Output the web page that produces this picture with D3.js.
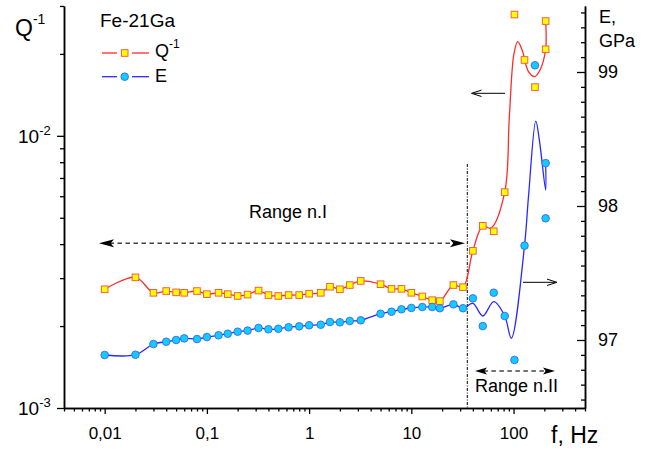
<!DOCTYPE html>
<html><head><meta charset="utf-8">
<script src="https://cdn.jsdelivr.net/npm/d3@7"></script>
<style>
body{margin:0;background:#fff}
svg{display:block}
text{font-family:"Liberation Sans",Arial,sans-serif;fill:#000}
</style>
</head><body>
<svg id="c" width="657" height="453"></svg>
<script>
// ---- data ----
const freq = [0.01,0.02,0.03,0.04,0.05,0.06,0.08,0.1,0.13,0.16,0.2,0.25,0.32,0.4,0.5,0.63,0.8,1,1.3,1.6,2,2.5,3.2,5,6.4,8,10,12.8,16,19,25.8,32,40,50,64,82,102,128,162,206,206];
const qValues = [2.73,3.02,2.65,2.69,2.66,2.65,2.69,2.62,2.65,2.62,2.58,2.61,2.70,2.60,2.58,2.60,2.60,2.63,2.65,2.79,2.73,2.83,2.93,2.85,2.74,2.74,2.65,2.57,2.49,2.47,2.83,2.78,3.78,4.67,4.46,6.21,27.9,19.0,15.1,20.8,26.4].map(v=>v*1e-3);
const eValues = [96.888,96.890,96.970,96.987,97.000,97.012,97.007,97.022,97.035,97.047,97.062,97.070,97.090,97.080,97.084,97.095,97.102,97.110,97.114,97.134,97.132,97.142,97.147,97.196,97.211,97.229,97.239,97.246,97.246,97.237,97.266,97.237,97.311,97.104,97.353,97.179,96.851,97.704,99.050,98.320,97.908];
// smoothed curve knots above the low-frequency range
const qFitF = [50,60,82,91,101,110,121,140,160,182,206,206];
const qFitV = [4.67,4.58,6.21,11.8,20.1,22.2,20.7,17.2,16.5,17.5,20.8,26.4].map(v=>v*1e-3);
const eFitF = [40,50,64,82,95,128,140,165,179,206,206];
const eFitV = [97.274,97.179,97.286,97.179,97.013,97.704,98.07,98.634,98.49,98.119,98.321];
const xMajor = [0.01,0.1,1,10,100];
const xMajorLabels = ["0,01","0,1","1","10","100"];
const qMajor = [1e-3,1e-2];
const qMajorLabels = [["10","-3"],["10","-2"]];
const eMajor = [97,98,99];

// ---- scales ----
const svg = d3.select("#c");
const x = d3.scaleLog().domain([0.004,500]).range([64,585]);
const yQ = d3.scaleLog().domain([1e-3, Math.pow(10,-1.523)]).range([408,6]);
const yE = d3.scaleLinear().domain([96.4925,99.4925]).range([408,6]);

function styleAxis(g){
  g.select(".domain").attr("stroke","#000").attr("stroke-width",1.5);
  g.selectAll(".tick line").attr("stroke","#000").attr("stroke-width",1.3);
  g.selectAll("text").style("font-family",'"Liberation Sans",Arial,sans-serif').attr("fill","#000");
}

// bottom axis
const xMinor = [];
for (let e=-3;e<=2;e++) for (let m=2;m<=9;m++){ const v=m*Math.pow(10,e); if(v>=0.004&&v<=500) xMinor.push(v); }
svg.append("g").attr("transform","translate(0,408)")
  .call(d3.axisBottom(x).tickValues(xMinor).tickSize(3.5).tickSizeOuter(0).tickFormat(""))
  .call(styleAxis);
svg.append("g").attr("transform","translate(0,408)")
  .call(d3.axisBottom(x).tickValues(xMajor).tickSize(6).tickSizeOuter(0).tickPadding(13)
    .tickFormat((d,i)=>xMajorLabels[i]))
  .call(styleAxis)
  .call(g=>g.selectAll("text").style("font-size","17px"));

// left axis
const qMinor = [2e-3,3e-3,4e-3,5e-3,6e-3,7e-3,8e-3,9e-3,2e-2,3e-2];
svg.append("g").attr("transform","translate(64,0)")
  .call(d3.axisLeft(yQ).tickValues(qMinor).tickSize(4).tickSizeOuter(0).tickFormat(""))
  .call(styleAxis);
svg.append("g").attr("transform","translate(64,0)")
  .call(d3.axisLeft(yQ).tickValues(qMajor).tickSize(7).tickSizeOuter(0).tickFormat(""))
  .call(styleAxis);
qMajor.forEach((v,i)=>{
  const t = svg.append("text").attr("x",18).attr("y",yQ(v)+7).style("font-size","19px");
  t.append("tspan").text(qMajorLabels[i][0]);
  t.append("tspan").attr("dy",-8).style("font-size","13px").text(qMajorLabels[i][1]);
});

// right axis
const eMinor = [];
for (let k=-5;k<=22;k++){ const v=97+k/9; if(v>96.4925&&v<99.4925&&k%9!==0) eMinor.push(v); }
svg.append("g").attr("transform","translate(585,0)")
  .call(d3.axisRight(yE).tickValues(eMinor).tickSize(-4).tickSizeOuter(0).tickFormat(""))
  .call(styleAxis);
svg.append("g").attr("transform","translate(585,0)")
  .call(d3.axisRight(yE).tickValues(eMajor).tickSize(-8).tickSizeOuter(0).tickPadding(13).tickFormat(d3.format("d")))
  .call(styleAxis)
  .call(g=>g.selectAll("text").style("font-size","18px"));

// ---- annotations ----
svg.append("line").attr("x1",467.3).attr("x2",467.3).attr("y1",164).attr("y2",408)
  .attr("stroke","#000").attr("stroke-width",1).attr("stroke-dasharray","3,1.5,1,1.5");

function headPath(tx,ty,dir,len,hw){ // filled barbed arrowhead, dir=+1 points right
  const b = tx - dir*len, n = tx - dir*len*0.78;
  return `M${tx},${ty}L${b},${ty-hw}L${n},${ty}L${b},${ty+hw}Z`;
}
function dashedDouble(x1,x2,yy,len,hw){
  svg.append("line").attr("x1",x1+len*0.7).attr("x2",x2-len*0.7).attr("y1",yy).attr("y2",yy)
    .attr("stroke","#444").attr("stroke-width",1.4).attr("stroke-dasharray","4.5,3.5");
  svg.append("path").attr("d",headPath(x1,yy,-1,len,hw)).attr("fill","#000");
  svg.append("path").attr("d",headPath(x2,yy,1,len,hw)).attr("fill","#000");
}
dashedDouble(99,465,243.3,15,4);
dashedDouble(475,555,371,12,3.5);

function thinArrow(x1,x2,yy){ // from x1 to x2 (tip)
  const dir = Math.sign(x2-x1);
  svg.append("line").attr("x1",x1).attr("x2",x2-dir*2).attr("y1",yy).attr("y2",yy).attr("stroke","#000").attr("stroke-width",1);
  svg.append("path").attr("d",`M${x2-dir*10},${yy-3.2}L${x2},${yy}L${x2-dir*10},${yy+3.2}`)
    .attr("fill","none").attr("stroke","#000").attr("stroke-width",1);
}
thinArrow(505,471.5,93.3);
thinArrow(523,557,282.3);

svg.append("text").attr("x",249).attr("y",218).style("font-size","18px").text("Range n.I");
svg.append("text").attr("x",475).attr("y",391.5).style("font-size","18px").text("Range n.II");

// axis titles
const qt = svg.append("text").attr("x",15).attr("y",36).style("font-size","23px");
qt.append("tspan").text("Q");
qt.append("tspan").attr("dy",-12).style("font-size","14px").text("-1");
svg.append("text").attr("x",599).attr("y",23).style("font-size","18px").text("E,");
svg.append("text").attr("x",599).attr("y",47).style("font-size","18px").text("GPa");
svg.append("text").attr("x",551).attr("y",443).style("font-size","23px").text("f, Hz");

// ---- curves ----
const qCurve = freq.map((f,i)=>[f,qValues[i]]).filter(d=>d[0]<=40).concat(qFitF.map((f,i)=>[f,qFitV[i]]));
const eCurve = freq.map((f,i)=>[f,eValues[i]]).filter(d=>d[0]<=32).concat(eFitF.map((f,i)=>[f,eFitV[i]]));
const cr = d3.curveCatmullRom.alpha(0.5);
svg.append("path").datum(qCurve)
  .attr("d",d3.line().x(d=>x(d[0])).y(d=>yQ(d[1])).curve(cr))
  .attr("fill","none").attr("stroke","#ff2a2a").attr("stroke-width",1.3);
svg.append("path").datum(eCurve)
  .attr("d",d3.line().x(d=>x(d[0])).y(d=>yE(d[1])).curve(cr))
  .attr("fill","none").attr("stroke","#2a2aff").attr("stroke-width",1.3);

// ---- markers ----
const sq = 6.6;
svg.append("g").selectAll("rect").data(freq.map((f,i)=>[f,qValues[i]])).join("rect")
  .attr("x",d=>x(d[0])-sq/2).attr("y",d=>yQ(d[1])-sq/2).attr("width",sq).attr("height",sq)
  .attr("fill","#ffff00").attr("stroke","#f2603c").attr("stroke-width",1);
svg.append("g").selectAll("circle").data(freq.map((f,i)=>[f,eValues[i]])).join("circle")
  .attr("cx",d=>x(d[0])).attr("cy",d=>yE(d[1])).attr("r",3.8)
  .attr("fill","#10ccff").attr("stroke","#3a66ee").attr("stroke-width",0.9);

// ---- legend ----
svg.append("text").attr("x",100).attr("y",27).style("font-size","19px").text("Fe-21Ga");
[[102,117],[132,149]].forEach(s=>{
  svg.append("line").attr("x1",s[0]).attr("x2",s[1]).attr("y1",53).attr("y2",53).attr("stroke","#ff2a2a").attr("stroke-width",1.3);
  svg.append("line").attr("x1",s[0]).attr("x2",s[1]).attr("y1",76.7).attr("y2",76.7).attr("stroke","#2a2aff").attr("stroke-width",1.3);
});
svg.append("rect").attr("x",124.7-sq/2).attr("y",53-sq/2).attr("width",sq).attr("height",sq)
  .attr("fill","#ffff00").attr("stroke","#f2603c").attr("stroke-width",1);
svg.append("circle").attr("cx",124.7).attr("cy",76.7).attr("r",3.8)
  .attr("fill","#10ccff").attr("stroke","#3a66ee").attr("stroke-width",0.9);
const lq = svg.append("text").attr("x",155).attr("y",57).style("font-size","18px");
lq.append("tspan").text("Q");
lq.append("tspan").attr("dy",-9).style("font-size","12px").text("-1");
svg.append("text").attr("x",155).attr("y",82).style("font-size","18px").text("E");
</script>
</body></html>
